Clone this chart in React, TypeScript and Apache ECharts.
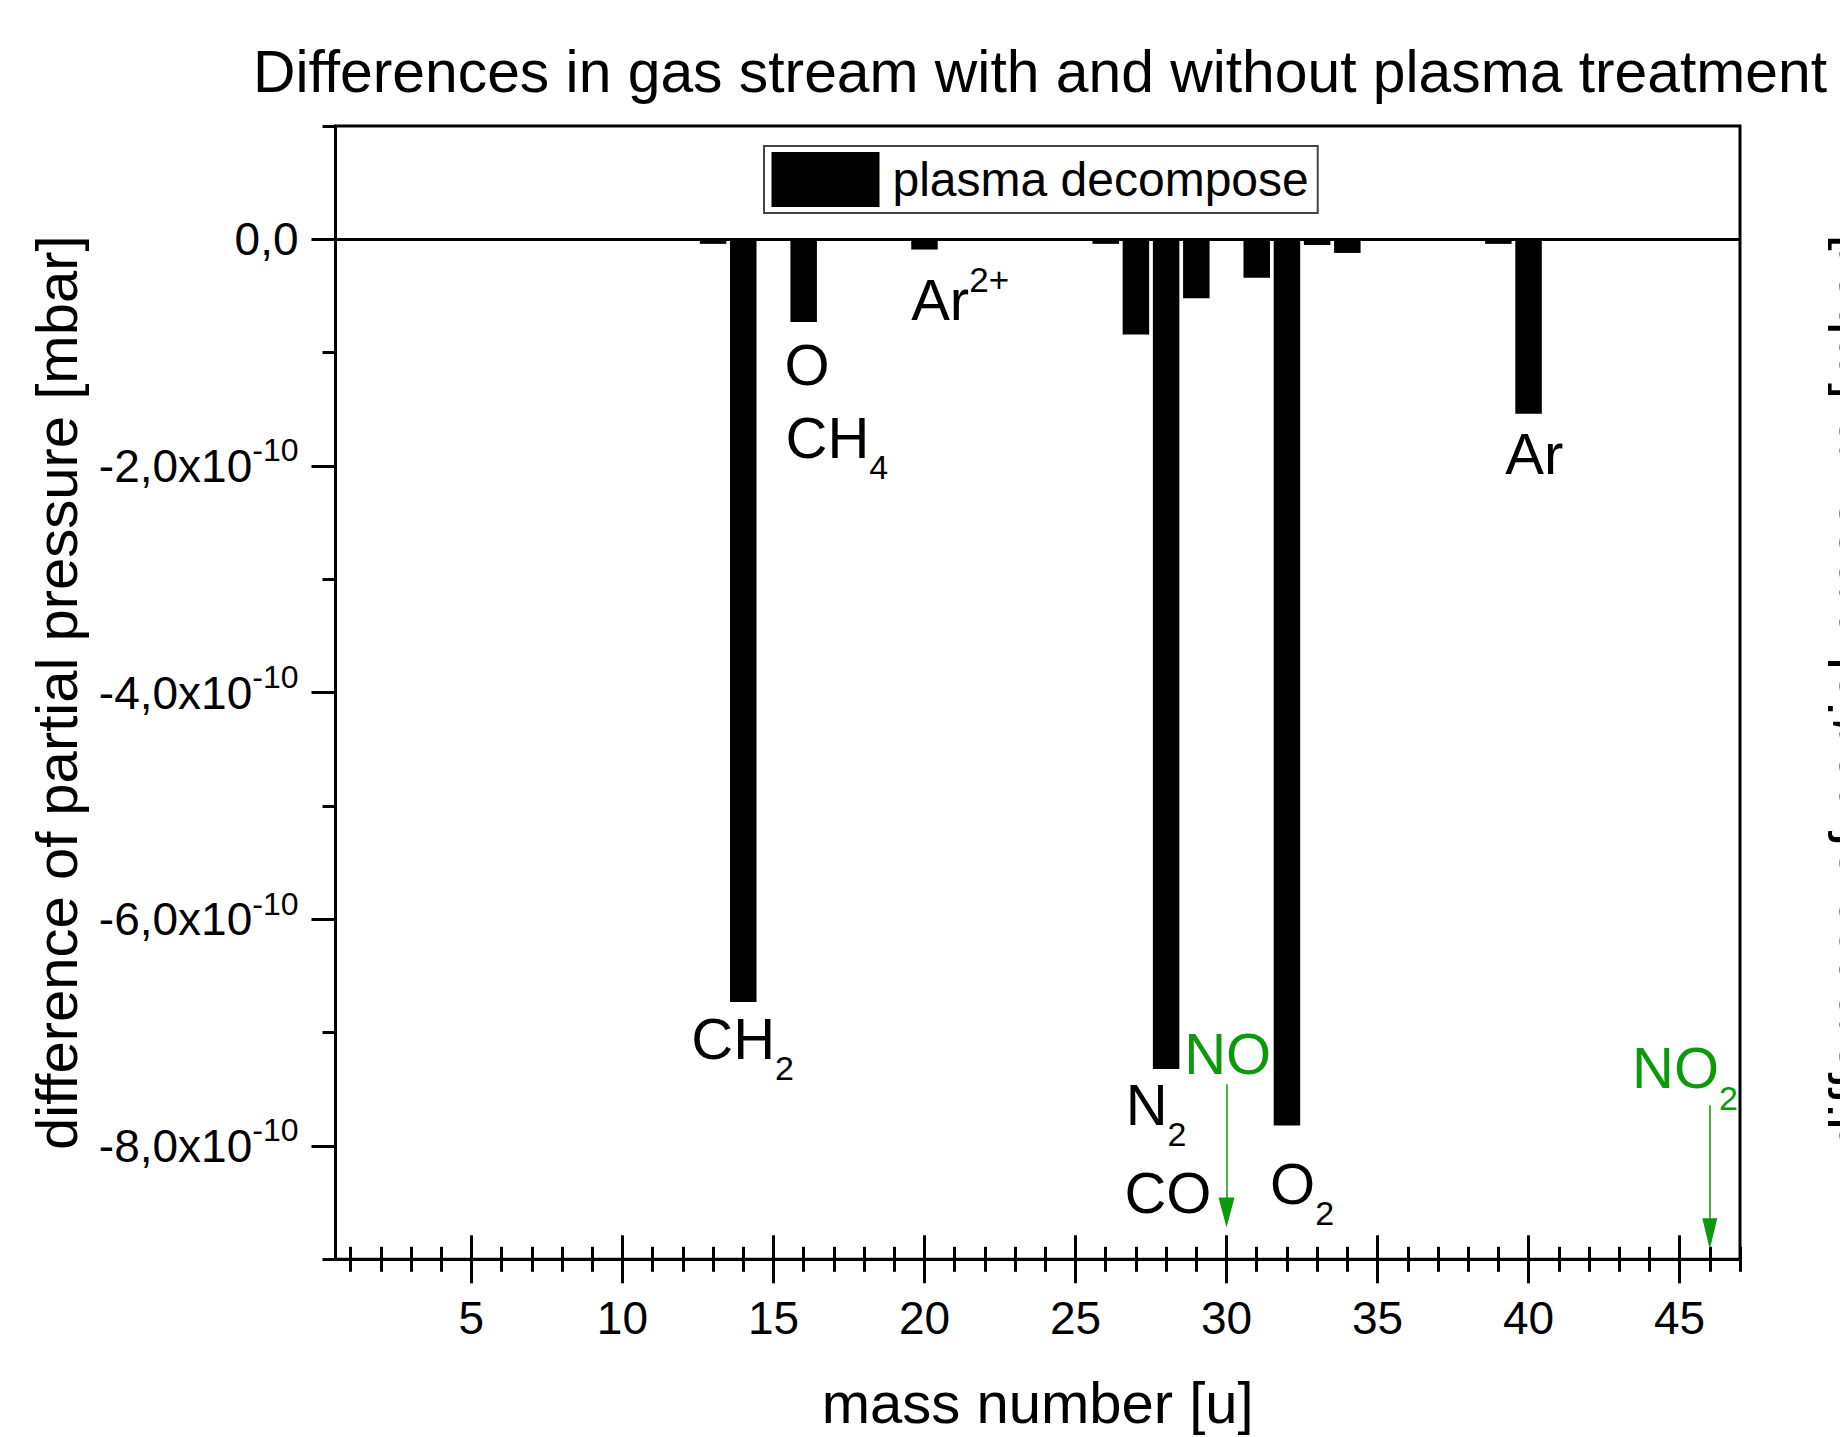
import React, { useEffect, useRef } from 'react';
import * as echarts from 'echarts';

const FONT = "'Liberation Sans', Arial, Helvetica, sans-serif";
const GREEN = '#0c990c';

// mass number [u] and difference of partial pressure (in units of 1e-10 mbar)
const massNumbers = [13, 14, 16, 20, 26, 27, 28, 29, 31, 32, 33, 34, 39, 40];
const pressureDiff = [-0.04, -6.73, -0.73, -0.09, -0.04, -0.84, -7.32, -0.52, -0.34, -7.82, -0.05, -0.12, -0.04, -1.54];

// axis ticks
const yMajorTicks = [-8, -6, -4, -2, 0];
const yMinorTicks = [-9, -7, -5, -3, -1, 1];
const xMajorTicks = [5, 10, 15, 20, 25, 30, 35, 40, 45];
const xMinorTicks = [
  1, 2, 3, 4, 5, 6, 7, 8, 9, 10, 11, 12, 13, 14, 15, 16, 17, 18, 19, 20, 21, 22, 23, 24,
  25, 26, 27, 28, 29, 30, 31, 32, 33, 34, 35, 36, 37, 38, 39, 40, 41, 42, 43, 44, 45, 46, 47,
];

// peak annotations (anchor in data coordinates)
const peakNames = ['CH', 'O', 'CH', 'Ar', 'N', 'CO', 'O', 'Ar', 'NO', 'NO'];
const peakSubs = ['2', '', '4', '', '2', '', '2', '', '', '2'];
const peakSups = ['', '', '', '2+', '', '', '', '', '', ''];
const peakLabelX = [13.98, 16.11, 17.1, 21.18, 27.67, 28.06, 32.5, 40.19, 30.04, 45.18];
const peakLabelY = [-7.05, -1.106, -1.747, -0.527, -7.63, -8.41, -8.33, -1.89, -7.18, -7.31];
const peakGreen = [false, false, false, false, false, false, false, false, true, true];

// arrows marking expected (absent) NO and NO2 peaks
const arrowMass = [30, 46];
const arrowFrom = [-7.456, -7.64];
const arrowTo = [-8.587, -8.774];
const arrowHead = [
  [16, 30],
  [15, 31],
];

const X_MIN = 0.5;
const X_MAX = 47;
const Y_MIN = -9;
const Y_MAX = 1;

function fmtY(v: number) {
  if (v === 0) return '{m|0,0}';
  return `{m|${v.toFixed(1).replace('.', ',')}x10}{s|-10}`;
}

function buildOption() {
  const baseX = {
    type: 'value',
    min: X_MIN,
    max: X_MAX,
    position: 'bottom',
    splitLine: { show: false },
    axisLabel: { show: false },
    axisLine: { show: false, onZero: false },
  };
  const tickStyle = { color: '#000', width: 3 };
  const xAxes = [
    {
      ...baseX,
      axisLine: { show: true, onZero: false, lineStyle: { color: '#000', width: 3 } },
      axisTick: { show: true, inside: false, length: 12.5, customValues: xMinorTicks, lineStyle: tickStyle },
    },
    {
      ...baseX,
      axisTick: { show: true, inside: true, length: 12.5, customValues: xMinorTicks, lineStyle: tickStyle },
    },
    {
      ...baseX,
      axisTick: { show: true, inside: true, length: 24, customValues: xMajorTicks, lineStyle: tickStyle },
    },
    {
      ...baseX,
      axisTick: { show: true, inside: false, length: 24, customValues: xMajorTicks, lineStyle: tickStyle },
      axisLabel: {
        show: true,
        customValues: xMajorTicks,
        margin: 34,
        fontSize: 46,
        lineHeight: 50,
        fontFamily: FONT,
        color: '#000',
      },
      name: 'mass number [u]',
      nameLocation: 'middle',
      nameGap: 114,
      nameTextStyle: { fontSize: 58, lineHeight: 58, fontFamily: FONT, color: '#000' },
    },
  ];

  const baseY = {
    type: 'value',
    min: Y_MIN,
    max: Y_MAX,
    interval: 1,
    position: 'left',
    splitLine: { show: false },
  };
  const yAxes = [
    {
      ...baseY,
      axisLine: { show: true, onZero: false, lineStyle: { color: '#000', width: 3 } },
      axisTick: { show: true, inside: false, length: 13, customValues: yMinorTicks, lineStyle: tickStyle },
      axisLabel: {
        show: true,
        customValues: yMajorTicks,
        margin: 37,
        formatter: fmtY,
        rich: {
          m: { fontSize: 46, lineHeight: 63, fontFamily: FONT, color: '#000' },
          s: { fontSize: 32, lineHeight: 32, verticalAlign: 'top', fontFamily: FONT, color: '#000' },
        },
      },
      name: 'difference of partial pressure [mbar]',
      nameLocation: 'middle',
      nameGap: 250,
      nameTextStyle: { fontSize: 58, lineHeight: 58, fontFamily: FONT, color: '#000' },
    },
    {
      ...baseY,
      axisLine: { show: false, onZero: false },
      axisLabel: { show: false },
      axisTick: { show: true, inside: false, length: 24, customValues: yMajorTicks, lineStyle: tickStyle },
    },
  ];

  const barData = massNumbers.map((m, i) => [m, pressureDiff[i]]);

  const labelData = peakNames.map((n, i) => [peakLabelX[i], peakLabelY[i]]);

  const arrowData = arrowMass.map((m, i) => [
    { coord: [m, arrowFrom[i]], symbol: 'none' },
    { coord: [m, arrowTo[i]], symbol: 'triangle', symbolSize: arrowHead[i] },
  ]);

  const richFor = (color: string) => ({
    m: { fontSize: 58, lineHeight: 94, fontFamily: FONT, color },
    mp: { fontSize: 58, lineHeight: 75, fontFamily: FONT, color },
    sub: { fontSize: 34, lineHeight: 34, verticalAlign: 'bottom', fontFamily: FONT, color },
    sup: { fontSize: 35, lineHeight: 35, verticalAlign: 'top', fontFamily: FONT, color },
  });
  const rich: any = {};
  const rb = richFor('#000');
  const rg = richFor(GREEN);
  Object.keys(rb).forEach((k) => {
    rich[k] = (rb as any)[k];
    rich[k + 'g'] = (rg as any)[k];
  });

  return {
    animation: false,
    backgroundColor: '#fff',
    textStyle: { fontFamily: FONT },
    title: {
      text: 'Differences in gas stream with and without plasma treatment',
      left: 1040,
      top: 36,
      padding: 0,
      textAlign: 'center',
      textStyle: { fontSize: 58.8, lineHeight: 70, fontWeight: 'normal', color: '#000', fontFamily: FONT },
    },
    legend: {
      data: ['plasma decompose'],
      left: 764,
      top: 146,
      icon: 'rect',
      itemWidth: 108,
      itemHeight: 55,
      padding: [6, 9, 6, 7.5],
      borderColor: '#444',
      borderWidth: 2,
      backgroundColor: '#fff',
      selectedMode: false,
      textStyle: { fontSize: 48, color: '#000', fontFamily: FONT, padding: [0, 0, 0, 8] },
    },
    grid: {
      left: 335.5,
      right: 100,
      top: 126,
      bottom: 177.7,
      show: true,
      borderColor: '#000',
      borderWidth: 3,
      backgroundColor: 'transparent',
    },
    xAxis: xAxes,
    yAxis: yAxes,
    graphic: [
      {
        type: 'text',
        x: 1849,
        y: 692,
        rotation: Math.PI / 2,
        style: {
          text: 'difference of partial pressure [mbar]',
          fontSize: 58,
          fontFamily: FONT,
          fill: '#000',
          align: 'center',
          verticalAlign: 'middle',
          textAlign: 'center',
          textVerticalAlign: 'middle',
        },
      },
    ],
    series: [
      {
        name: 'plasma decompose',
        type: 'bar',
        xAxisIndex: 0,
        yAxisIndex: 0,
        barWidth: 26.5,
        itemStyle: { color: '#000' },
        data: barData,
        z: 2,
        markLine: {
          silent: true,
          symbol: 'none',
          label: { show: false },
          lineStyle: { color: '#000', width: 3, type: 'solid' },
          data: [{ yAxis: 0 }],
        },
      },
      {
        name: 'annotations',
        type: 'scatter',
        xAxisIndex: 0,
        yAxisIndex: 0,
        symbolSize: 1,
        itemStyle: { color: 'rgba(0,0,0,0)', opacity: 1 },
        silent: true,
        z: 5,
        label: {
          show: true,
          position: 'inside',
          fontFamily: FONT,
          color: '#000',
          formatter: (p: any) => {
            const i = p.dataIndex;
            const g = peakGreen[i] ? 'g' : '';
            const main = peakSups[i] ? 'mp' : 'm';
            let s = `{${main}${g}|${peakNames[i]}}`;
            if (peakSubs[i]) s += `{sub${g}|${peakSubs[i]}}`;
            if (peakSups[i]) s += `{sup${g}|${peakSups[i]}}`;
            return s;
          },
          rich,
        },
        data: labelData,
        markLine: {
          silent: true,
          symbol: ['none', 'triangle'],
          label: { show: false },
          lineStyle: { color: GREEN, width: 1.5, type: 'solid', opacity: 1 },
          itemStyle: { color: GREEN, opacity: 1 },
          emphasis: { disabled: true },
          data: arrowData,
        },
      },
    ],
  };
}

export default function App() {
  const ref = useRef<HTMLDivElement>(null);
  useEffect(() => {
    document.body.style.margin = '0';
    const chart = echarts.init(ref.current!, undefined, { renderer: 'svg' });
    chart.setOption(buildOption() as any);
    return () => chart.dispose();
  }, []);
  return (
    <div
      ref={ref}
      style={{ width: 1840, height: 1437, position: 'absolute', left: 0, top: 0, background: '#fff' }}
    />
  );
}
